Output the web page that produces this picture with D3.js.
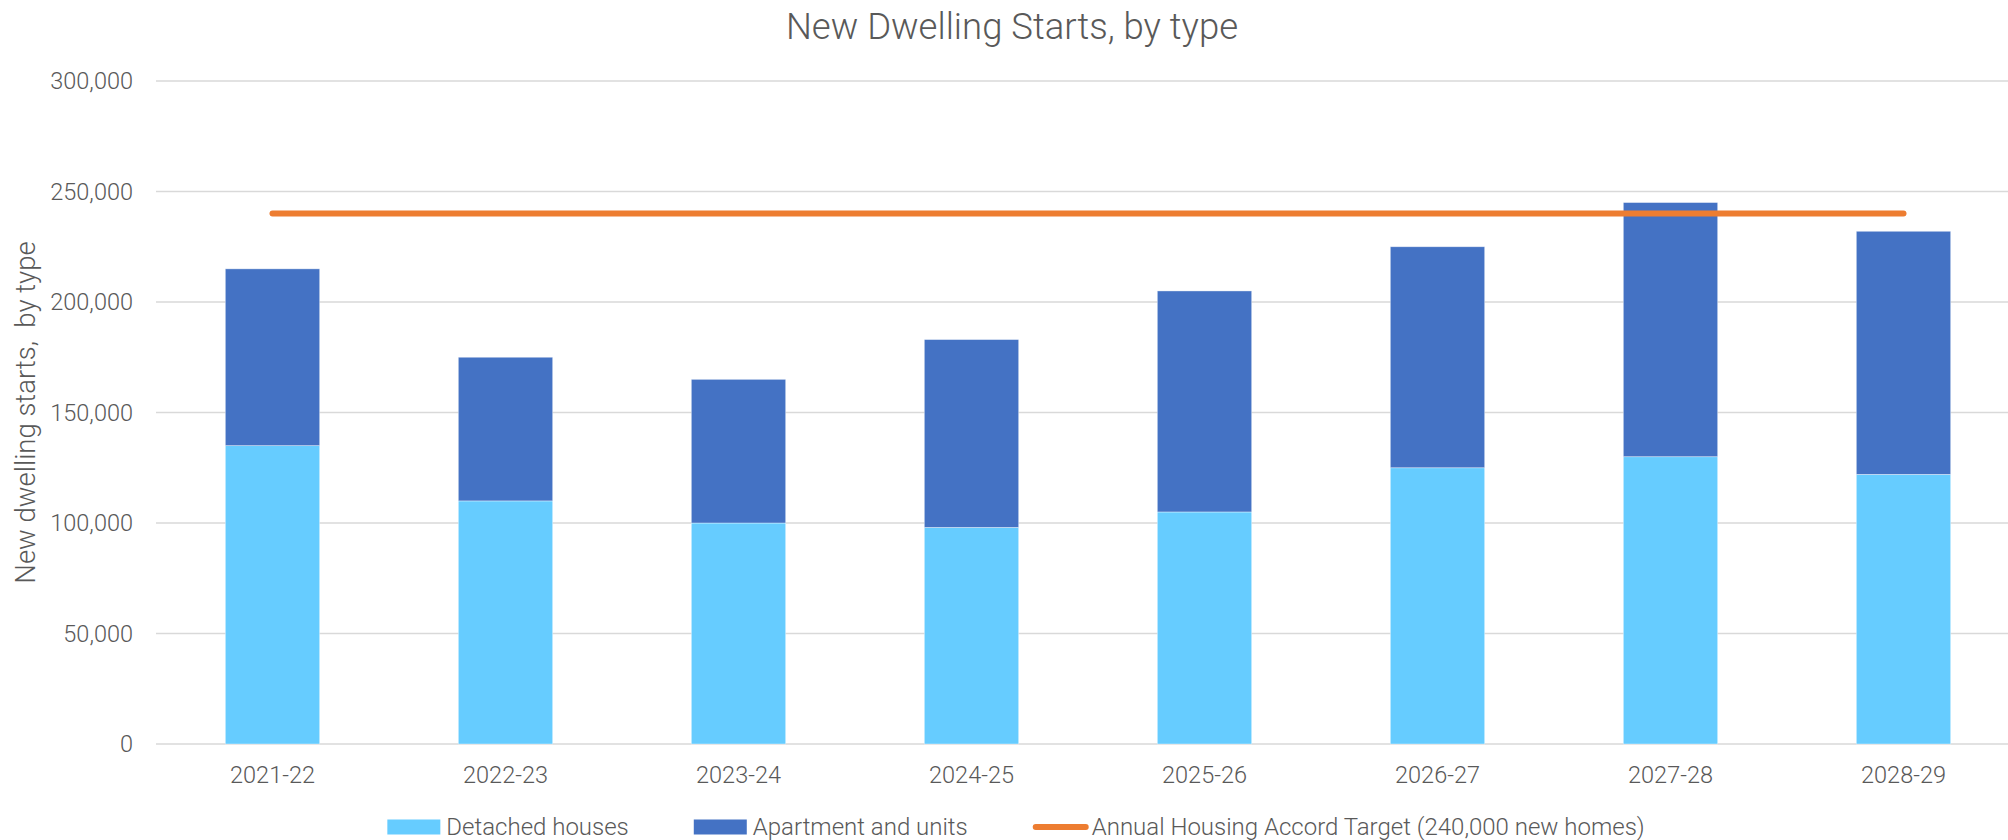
<!DOCTYPE html>
<html>
<head>
<meta charset="utf-8">
<script src="https://cdn.jsdelivr.net/npm/d3@7"></script>
<style>
  body { margin: 0; background: #fff; }
  text { font-family: Roboto, "Noto Sans", sans-serif; font-weight: 300; fill: #595959; }
</style>
</head>
<body>
<script>
// data
var years = ["2021-22", "2022-23", "2023-24", "2024-25", "2025-26", "2026-27", "2027-28", "2028-29"];
var detached = [135000, 110000, 100000, 98000, 105000, 125000, 130000, 122000];
var apartments = [80000, 65000, 65000, 85000, 100000, 100000, 115000, 110000];
var target = 240000;
var yTicks = [0, 50000, 100000, 150000, 200000, 250000, 300000];

var seriesNames = ["Detached houses", "Apartment and units"];
var colors = ["#66CCFF", "#4472C4"];
var lineColor = "#ED7D31";
var targetName = "Annual Housing Accord Target (240,000 new homes)";

var W = 2008, H = 840;
var margin = {top: 81, right: -12, bottom: 96, left: 156};

var svg = d3.select("body").append("svg")
    .attr("width", W)
    .attr("height", H);

var x = d3.scaleBand().domain(years).range([margin.left, W - margin.right]);
var y = d3.scaleLinear().domain([0, 300000]).range([H - margin.bottom, margin.top]);
var barW = x.bandwidth() * 0.405;

// gridlines
svg.append("g")
  .selectAll("line")
  .data(yTicks)
  .enter().append("line")
    .attr("x1", margin.left)
    .attr("x2", W - margin.right)
    .attr("y1", function(d) { return y(d); })
    .attr("y2", function(d) { return y(d); })
    .attr("stroke", "#d9d9d9")
    .attr("stroke-width", 1.5);

// y axis labels
var yAxis = d3.axisLeft(y).tickValues(yTicks).tickFormat(d3.format(",")).tickSize(0).tickPadding(23);
var gy = svg.append("g")
    .attr("transform", "translate(" + margin.left + ",0)")
    .call(yAxis);
gy.select(".domain").remove();
gy.selectAll("text").attr("font-size", 23.5).attr("fill", "#595959").attr("font-family", null);

// x axis labels
var xAxis = d3.axisBottom(x).tickSize(0).tickPadding(22);
var gx = svg.append("g")
    .attr("transform", "translate(0," + y(0) + ")")
    .call(xAxis);
gx.select(".domain").remove();
gx.selectAll("text").attr("font-size", 23.5).attr("fill", "#595959").attr("font-family", null);

// stacked bars
var rows = years.map(function(yr, i) { return {year: yr, d0: detached[i], d1: apartments[i]}; });
var stack = d3.stack().keys(["d0", "d1"]);
var layers = stack(rows);

svg.append("g")
  .selectAll("g")
  .data(layers)
  .enter().append("g")
    .attr("fill", function(d, i) { return colors[i]; })
  .selectAll("rect")
  .data(function(d) { return d; })
  .enter().append("rect")
    .attr("x", function(d) { return x(d.data.year) + (x.bandwidth() - barW) / 2; })
    .attr("width", barW)
    .attr("y", function(d) { return y(d[1]); })
    .attr("height", function(d) { return y(d[0]) - y(d[1]); })
    .attr("stroke", "#ffffff")
    .attr("stroke-opacity", 0.5)
    .attr("stroke-width", 0.75);

// target line
var line = d3.line()
    .x(function(d) { return x(d) + x.bandwidth() / 2; })
    .y(function() { return y(target); });

svg.append("path")
    .datum(years)
    .attr("d", line)
    .attr("fill", "none")
    .attr("stroke", lineColor)
    .attr("stroke-width", 6)
    .attr("stroke-linecap", "round");

// title
svg.append("text")
    .attr("x", 1012)
    .attr("y", 39)
    .attr("text-anchor", "middle")
    .attr("font-size", 36.5)
    .text("New Dwelling Starts, by type");

// y axis title
svg.append("text")
    .attr("transform", "translate(35," + (y(150000)) + ") rotate(-90)")
    .attr("text-anchor", "middle")
    .attr("font-size", 27.5)
    .attr("xml:space", "preserve")
    .style("white-space", "pre")
    .text("New dwelling starts,  by type");

// legend
var legend = svg.append("g");
var items = [
  {name: seriesNames[0], type: "rect", color: colors[0]},
  {name: seriesNames[1], type: "rect", color: colors[1]},
  {name: targetName, type: "line", color: lineColor}
];
var legY = 827, swW = 53, swGap = 6, itemGap = 65;
var pos = 0;
items.forEach(function(it) {
  var g = legend.append("g").attr("transform", "translate(" + pos + ",0)");
  if (it.type == "rect") {
    g.append("rect").attr("x", 0).attr("y", legY - 7.5).attr("width", swW).attr("height", 15).attr("fill", it.color);
  } else {
    g.append("line").attr("x1", 3).attr("x2", swW).attr("y1", legY).attr("y2", legY)
      .attr("stroke", it.color).attr("stroke-width", 6).attr("stroke-linecap", "round");
  }
  var t = g.append("text")
      .attr("x", swW + swGap)
      .attr("y", legY + 7.5)
      .attr("font-size", 24)
      .text(it.name);
  pos += swW + swGap + t.node().getComputedTextLength() + itemGap;
});
var total = pos - itemGap;
legend.attr("transform", "translate(" + (1016 - total / 2) + ",0)");
</script>
</body>
</html>
